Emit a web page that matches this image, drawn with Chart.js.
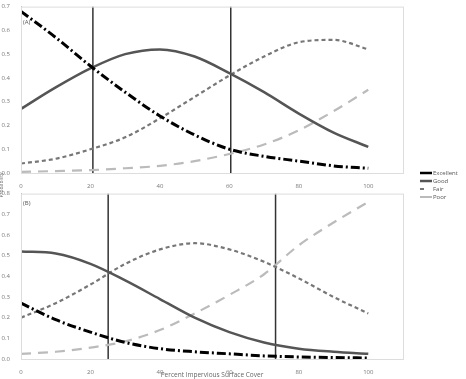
<!DOCTYPE html>
<html lang="en">
<head>
  <meta charset="UTF-8">
  <script src="https://cdn.jsdelivr.net/npm/chart.js"></script>
  <title>Probability vs impervious cover</title>
  <style>
    body { margin: 0; background: #fff; width: 466px; height: 379px; position: relative; overflow: hidden; font-family: "Open Sans", sans-serif; }
    .box { position: absolute; left: 0; width: 410px; }
    .tag { position: absolute; left: 23px; font-size: 6px; color: #555; }
    #ylab { position: absolute; left: -12px; top: 182px; font-size: 5px; color: #666; transform: rotate(-90deg); }
    #legend { position: absolute; left: 420px; top: 169px; font-size: 6px; color: #555; }
    #legend div { height: 8px; line-height: 8px; white-space: nowrap; }
    #legend canvas { vertical-align: middle; margin-right: 1px; }
  </style>
</head>
<body>
  <div class="box" style="top:0; height:188px;"><canvas id="chartA"></canvas></div>
  <div class="box" style="top:187px; height:192px;"><canvas id="chartB"></canvas></div>
  <div class="tag" style="top:18px;">(A)</div>
  <div class="tag" style="top:199px;">(B)</div>
  <div id="ylab">Probability</div>
  <div id="legend"></div>
  <script>
    const xs = [0, 10, 20, 30, 40, 50, 60, 70, 80, 90, 100];
    const seriesNames = ["Excellent", "Good", "Fair", "Poor"];

    // panel A
    const excellentA = [0.68, 0.57, 0.45, 0.34, 0.24, 0.16, 0.10, 0.07, 0.05, 0.03, 0.02];
    const goodA = [0.27, 0.36, 0.44, 0.50, 0.52, 0.49, 0.42, 0.34, 0.25, 0.17, 0.11];
    const fairA = [0.04, 0.06, 0.10, 0.15, 0.23, 0.32, 0.41, 0.49, 0.55, 0.56, 0.52];
    const poorA = [0.005, 0.008, 0.012, 0.02, 0.03, 0.05, 0.08, 0.12, 0.18, 0.26, 0.35];
    const cutsA = [20.7, 60.4];

    // panel B
    const excellentB = [0.27, 0.19, 0.13, 0.08, 0.05, 0.035, 0.025, 0.015, 0.01, 0.007, 0.005];
    const goodB = [0.52, 0.51, 0.46, 0.38, 0.29, 0.20, 0.13, 0.08, 0.05, 0.035, 0.025];
    const fairB = [0.20, 0.27, 0.36, 0.46, 0.53, 0.56, 0.53, 0.47, 0.39, 0.30, 0.22];
    const poorB = [0.025, 0.035, 0.055, 0.085, 0.14, 0.22, 0.31, 0.41, 0.55, 0.66, 0.76];
    const cutsB = [25.1, 73.3];

    const styles = [
      { color: '#000', width: 3, dash: [9, 3, 2, 3] },
      { color: '#555', width: 2.5, dash: [] },
      { color: '#777', width: 2.2, dash: [4, 3] },
      { color: '#bbb', width: 2.2, dash: [10, 7] }
    ];

    const framePlugin = {
      id: 'frame',
      afterDraw(chart) {
        const a = chart.chartArea, c = chart.ctx;
        c.save();
        c.strokeStyle = '#ddd';
        c.lineWidth = 1;
        c.strokeRect(a.left + 0.5, a.top + 0.5, a.right - a.left, a.bottom - a.top);
        c.restore();
      }
    };

    function makeChart(id, vals, cuts, ymax, xAxisH, showTitle) {
      const datasets = vals.map((v, i) => ({
        label: seriesNames[i],
        data: xs.map((x, k) => ({ x: x, y: v[k] })),
        borderColor: styles[i].color,
        borderWidth: styles[i].width,
        borderDash: styles[i].dash,
        pointRadius: 0,
        tension: 0.4,
        cubicInterpolationMode: 'monotone',
        fill: false
      }));
      cuts.forEach(c => datasets.push({
        label: 'cut',
        data: [{ x: c, y: 0 }, { x: c, y: ymax }],
        borderColor: '#333',
        borderWidth: 1.5,
        pointRadius: 0
      }));
      return new Chart(document.getElementById(id), {
        type: 'line',
        data: { datasets: datasets },
        options: {
          responsive: true,
          maintainAspectRatio: false,
          animation: false,
          layout: { padding: { top: 6, right: 7, left: 0, bottom: 0 } },
          plugins: { legend: { display: false }, tooltip: { enabled: false } },
          scales: {
            x: {
              type: 'linear', min: 0, max: 110,
              afterBuildTicks: s => { s.ticks = [0, 20, 40, 60, 80, 100].map(v => ({ value: v })); },
              afterFit: s => { s.height = xAxisH; },
              grid: { display: false, drawTicks: true },
              border: { color: '#bbb' },
              ticks: { font: { size: 6, family: 'Open Sans' }, color: '#777', padding: 2, maxRotation: 0 },
              title: { display: showTitle, text: 'Percent Impervious Surface Cover', font: { size: 6.5, family: 'Open Sans' }, color: '#666', padding: 0 }
            },
            y: {
              min: 0, max: ymax,
              afterFit: s => { s.width = 21; },
              grid: { display: false },
              border: { color: '#bbb' },
              ticks: { stepSize: 0.1, font: { size: 6, family: 'Open Sans' }, color: '#777', padding: 3, callback: v => v.toFixed(1) }
            }
          }
        },
        plugins: [framePlugin]
      });
    }

    makeChart('chartA', [excellentA, goodA, fairA, poorA], cutsA, 0.7, 15, false);
    makeChart('chartB', [excellentB, goodB, fairB, poorB], cutsB, 0.8, 20, true);

    // legend
    const leg = document.getElementById('legend');
    seriesNames.forEach((n, i) => {
      const row = document.createElement('div');
      const cv = document.createElement('canvas');
      cv.width = 12; cv.height = 6;
      const c = cv.getContext('2d');
      c.strokeStyle = styles[i].color;
      c.lineWidth = i < 2 ? 2.5 : 2;
      c.beginPath();
      if (i === 2) { c.moveTo(0, 3); c.lineTo(4, 3); } else { c.moveTo(0, 3); c.lineTo(12, 3); }
      c.stroke();
      row.appendChild(cv);
      row.appendChild(document.createTextNode(n));
      leg.appendChild(row);
    });
  </script>
</body>
</html>
